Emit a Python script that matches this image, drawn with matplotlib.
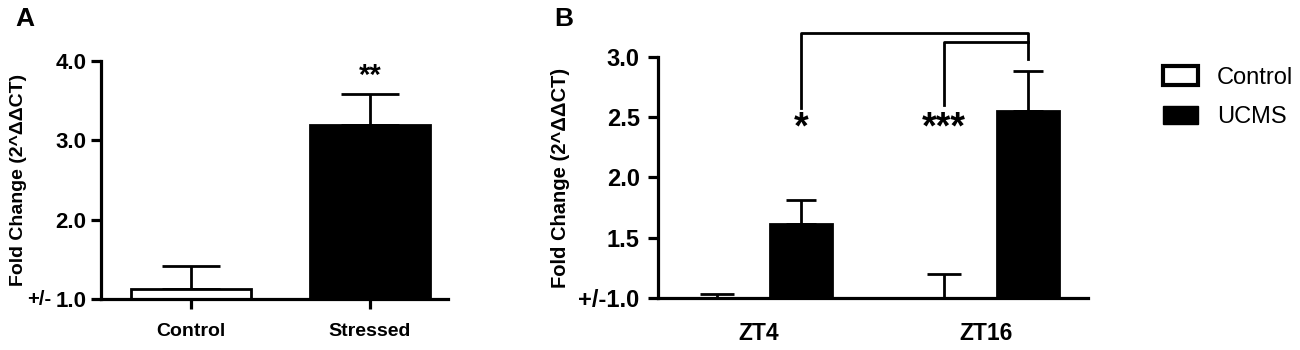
import matplotlib
matplotlib.use("Agg")
import matplotlib.pyplot as plt
from matplotlib.patches import Patch

plt.rcParams["font.family"] = ["Liberation Sans", "DejaVu Sans"]
plt.rcParams["font.weight"] = "bold"
plt.rcParams["axes.labelweight"] = "bold"

# panel A: control vs stressed
a_groups = ["Control", "Stressed"]
a_mean = [1.13, 3.19]
a_err = [0.29, 0.39]
a_sig = ["", "**"]
a_ticks = [1.0, 2.0, 3.0, 4.0]
a_ticklabels = ["1.0", "2.0", "3.0", "4.0"]

# panel B: ZT4 / ZT16, control vs UCMS
b_groups = ["ZT4", "ZT16"]
b_control = [1.0, 0.98]
b_control_err = [0.03, 0.22]
b_ucms = [1.61, 2.55]
b_ucms_err = [0.20, 0.33]
b_sig = ["*", "***"]
b_ticks = [1.0, 1.5, 2.0, 2.5, 3.0]
b_ticklabels = ["+/-1.0", "1.5", "2.0", "2.5", "3.0"]

ylab = "Fold Change (2^\u0394\u0394CT)"
LW = 2.3
BLW = 2.0

fig = plt.figure(figsize=(13, 3.5), dpi=100)

def style(ax):
    for s in ("top", "right"):
        ax.spines[s].set_visible(False)
    for s in ("left", "bottom"):
        ax.spines[s].set_linewidth(LW)

# ---- A
axa = fig.add_axes([0.0777, 0.1457, 0.267, 0.68])
xa = [0, 1]
axa.bar(xa, [m - 1 for m in a_mean], bottom=1, width=0.67,
        color=["white", "black"], edgecolor="black", linewidth=BLW, zorder=2)
for x, m, e in zip(xa, a_mean, a_err):
    axa.errorbar(x, m, yerr=[[0], [e]], fmt="none", ecolor="black",
                 elinewidth=BLW, capsize=21, capthick=BLW, zorder=1)
for x, m, e, s in zip(xa, a_mean, a_err, a_sig):
    if s:
        axa.text(x, m + e + 0.06, s, ha="center", va="bottom", fontsize=21)
axa.set_xlim(-0.503, 1.436)
axa.set_ylim(1.0, 4.0)
axa.set_yticks(a_ticks)
axa.set_yticklabels(a_ticklabels, fontsize=16)
axa.set_xticks(xa)
axa.set_xticklabels(a_groups, fontsize=14)
axa.tick_params(axis="both", width=LW, length=7)
axa.tick_params(axis="x", pad=10)
axa.set_ylabel(ylab, fontsize=14)
axa.yaxis.set_label_coords(-0.212, 0.5)
# the smaller "+/-" prefix before the 1.0 tick
axa.text(-0.144, 0.995, "+/-", transform=axa.get_yaxis_transform(),
         ha="right", va="center", fontsize=14.5)
style(axa)
fig.text(0.019, 0.945, "A", fontsize=19, ha="center", va="center")

# ---- B
axb = fig.add_axes([0.506, 0.1486, 0.331, 0.6886])
gx = [0, 1]
off, w = 0.185, 0.27
axb.bar([g - off for g in gx], [m - 1 for m in b_control], bottom=1, width=w,
        color="white", edgecolor="black", linewidth=BLW, zorder=2)
axb.bar([g + off for g in gx], [m - 1 for m in b_ucms], bottom=1, width=w,
        color="black", edgecolor="black", linewidth=BLW, zorder=2)
for g, m, e in zip(gx, b_control, b_control_err):
    axb.errorbar(g - off, m, yerr=[[0], [e]], fmt="none", ecolor="black",
                 elinewidth=BLW, capsize=12, capthick=BLW, zorder=1)
for g, m, e in zip(gx, b_ucms, b_ucms_err):
    axb.errorbar(g + off, m, yerr=[[0], [e]], fmt="none", ecolor="black",
                 elinewidth=BLW, capsize=11, capthick=BLW, zorder=1)
axb.set_xlim(-0.445, 1.45)
axb.set_ylim(1.0, 3.0)
axb.set_yticks(b_ticks)
axb.set_yticklabels(b_ticklabels, fontsize=17)
axb.set_xticks(gx)
axb.set_xticklabels(b_groups, fontsize=16.5)
axb.tick_params(axis="y", width=LW, length=7, pad=6)
axb.tick_params(axis="x", length=0, pad=17)
axb.set_ylabel(ylab, fontsize=14.5, labelpad=6)
style(axb)
fig.text(0.434, 0.945, "B", fontsize=19, ha="center", va="center")

# significance brackets (to ZT16 UCMS)
xr = gx[1] + off
x1 = gx[0] + off
x2 = gx[1] - off
axb.plot([x1, x1, xr, xr], [2.58, 3.2, 3.2, 2.98], color="black", lw=BLW, clip_on=False)
axb.plot([x2, x2, xr], [2.60, 3.125, 3.125], color="black", lw=BLW, clip_on=False)
axb.text(x1, 2.405, b_sig[0], ha="center", va="center", fontsize=27)
axb.text(x2, 2.405, b_sig[1], ha="center", va="center", fontsize=27)

handles = [Patch(facecolor="white", edgecolor="black", linewidth=3, label="Control"),
           Patch(facecolor="black", edgecolor="black", label="UCMS")]
leg = fig.legend(handles=handles, loc="upper left", bbox_to_anchor=(0.8945, 0.81),
                 frameon=False, prop={"weight": "normal", "size": 17},
                 handlelength=1.5, handleheight=0.85, labelspacing=0.7, handletextpad=0.8,
                 borderaxespad=0, borderpad=0)

fig.savefig("out.png", dpi=100)
